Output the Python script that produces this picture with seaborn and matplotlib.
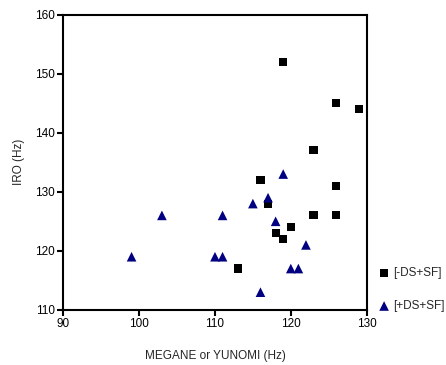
import pandas as pd
import seaborn as sns
import matplotlib.pyplot as plt

# values
minus_x = [119, 126, 129, 123, 116, 126, 117, 123, 126, 120, 118, 119, 113]
minus_y = [152, 145, 144, 137, 132, 131, 128, 126, 126, 124, 123, 122, 117]
plus_x = [99, 103, 111, 110, 111, 115, 117, 119, 118, 122, 120, 121, 116]
plus_y = [119, 126, 126, 119, 119, 128, 129, 133, 125, 121, 117, 117, 113]
groups = ["[-DS+SF]", "[+DS+SF]"]

minus = pd.DataFrame({"x": minus_x, "y": minus_y})
plus = pd.DataFrame({"x": plus_x, "y": plus_y})

sns.set_style("white")
plt.rcParams["font.family"] = ["Liberation Sans", "DejaVu Sans"]

fig = plt.figure(figsize=(4.46, 3.65), dpi=100)
ax = fig.add_axes([0.142, 0.151, 0.680, 0.809])

sns.scatterplot(data=minus, x="x", y="y", marker="s", color="black",
                s=34, edgecolor="none", ax=ax, label=groups[0])
sns.scatterplot(data=plus, x="x", y="y", marker="^", color="#000080",
                s=48, edgecolor="none", ax=ax, label=groups[1])
handles, labels = ax.get_legend_handles_labels()
ax.get_legend().remove()

ax.set_xlim(90, 130)
ax.set_ylim(110, 160)
ax.set_xticks(range(90, 131, 10))
ax.set_yticks(range(110, 161, 10))
ax.tick_params(axis="both", direction="out", length=4, width=1.5,
               labelsize=8.5, colors="black", pad=2, bottom=True, left=True)
for sp in ax.spines.values():
    sp.set_linewidth(1.5)
    sp.set_color("black")

ax.set_xlabel("MEGANE or YUNOMI (Hz)", fontsize=8.5, labelpad=14)
ax.set_ylabel("IRO (Hz)", fontsize=8.5, labelpad=7)

fig.legend(handles, labels, loc="lower left", bbox_to_anchor=(0.84, 0.132),
           frameon=False, fontsize=8.5, handlelength=0.8, handletextpad=0.4,
           labelspacing=1.75, borderaxespad=0)

plt.savefig("out.png", dpi=100)
